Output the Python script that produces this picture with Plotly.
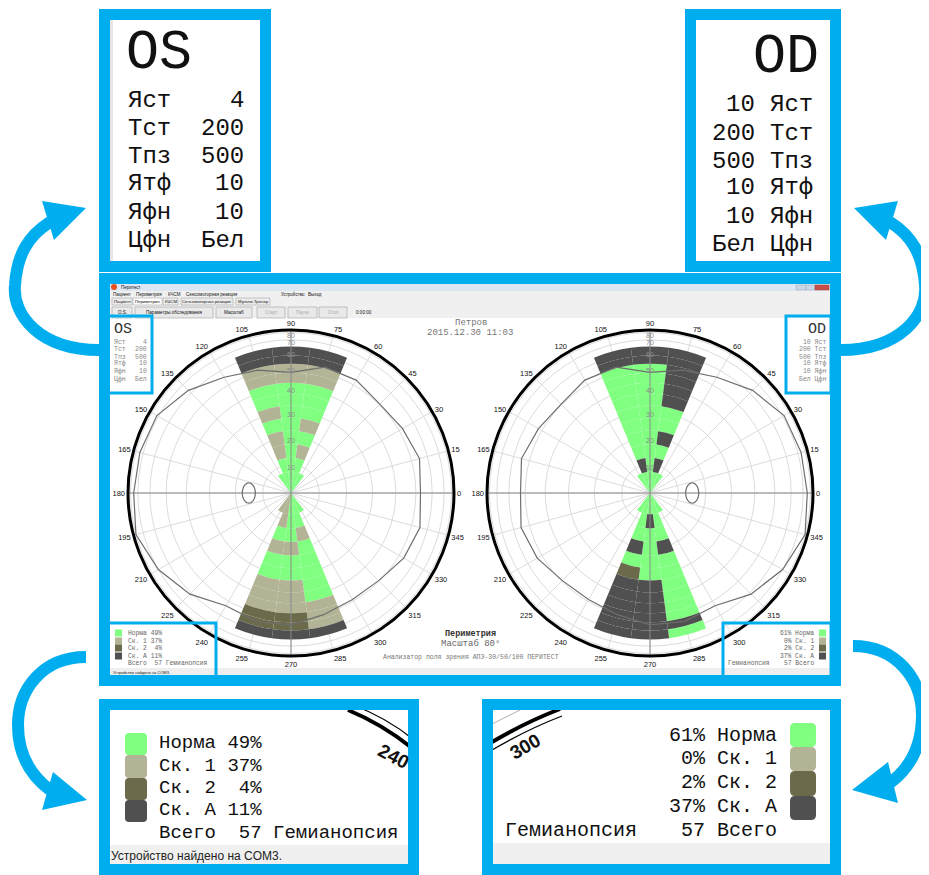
import math
import plotly.graph_objects as go

# the page body adds an 8px margin, so the figure is drawn 8px smaller and offset
W, H = 929, 875
OFF = 8
FW, FH = W - OFF, H - OFF
BLUE = "#00AEEF"
MONO = "Courier New, Liberation Mono, monospace"
SANS = "Arial, Liberation Sans, sans-serif"
NB = "\u00a0"

# ---------------- data ----------------
STATUS_KEYS = ["N", "1", "2", "A"]
STATUS_NAMES = ["Норма", "Ск. 1", "Ск. 2", "Ск. А"]
STATUS_COLORS = ["#80FF80", "#B3B396", "#6B6B4C", "#505050"]

ECC_CENTERS = [10, 15, 20, 25, 30, 35, 40, 45, 50, 55, 60]
ECC_HALF = 2.5
OUTER_EDGE = 64
FAN_EDGE = 7.5
TOP_MERIDIANS = [105, 90, 75]
BOTTOM_MERIDIANS = [255, 270, 285]
FAN_TOP_MERIDIANS = [120, 105, 90, 75, 60]
FAN_BOTTOM_MERIDIANS = [240, 255, 270, 285, 300]
CELL_WIDTH = 15

# rows follow ECC_CENTERS, characters follow the meridian lists
OS_TOP = ["NNN", "1N1", "1NN", "NN1", "1NN", "NNN", "NNN", "111", "111", "AAA", "AAA"]
OS_BOTTOM = ["1NN", "NN1", "11N", "NNN", "NNN", "11N", "11N", "111", "221", "221", "AAA"]
OS_FAN_TOP = "NNNNN"
OS_FAN_BOTTOM = "11NNN"

OD_TOP = ["ANA", "NNN", "NNA", "NNN", "NNN", "NNA", "NNA", "NNA", "NNA", "AAA", "AAA"]
OD_BOTTOM = ["NAN", "NNN", "ANA", "NNN", "2NN", "AAN", "AAN", "AAN", "AAN", "AAA", "AAN"]
OD_FAN_TOP = "NNNNN"
OD_FAN_BOTTOM = "NNNNN"

ISOPTER_THETA = list(range(0, 360, 15))
OS_ISOPTER = [52.6, 54.7, 52.2, 50.4, 53.1, 53.1, 47.7, 51.3, 55.1, 62.9, 71.8, 73.7,
              74.8, 80.0, 70.0, 61.3, 53.0, 54.7, 54.0, 50.6, 49.0, 49.5, 53.0, 55.0]
OD_ISOPTER = [74.8, 73.7, 71.8, 62.9, 55.1, 51.3, 47.7, 53.1, 53.1, 50.4, 52.2, 54.7,
              52.6, 55.0, 53.0, 49.5, 49.0, 50.6, 54.0, 54.7, 53.0, 61.3, 70.0, 80.0]

OS_BLIND = dict(ecc=15, theta=180, half_w=0.040, half_h=0.062)
OD_BLIND = dict(ecc=15, theta=0, half_w=0.040, half_h=0.062)

RADIAL_TICKS = [10, 20, 30, 40, 50, 60, 70, 80]
ANGULAR_TICKS = list(range(0, 360, 15))

OS_PCT = [49, 37, 4, 11]
OD_PCT = [61, 0, 2, 37]
TOTAL = 57
TEST_NAME = "Гемианопсия"
PARAM_NAMES = ["Яст", "Тст", "Тпз", "Ятф", "Яфн", "Цфн"]
OS_PARAMS = ["4", "200", "500", "10", "10", "Бел"]
OD_PARAMS = ["10", "200", "500", "10", "10", "Бел"]

PATIENT = "Петров"
DATE = "2015.12.30 11:03"
TITLE = "Периметрия"
SCALE = "Масштаб 80°"
DEVICE = "Анализатор поля зрения АПЭ-30/50/100 ПЕРИТЕСТ"
STATUS_MSG = "Устройство найдено на COM3."
APP_NAME = "Перитест"
MENU = ["Пациент", "Периметрия", "КЧСМ", "Сенсомоторная реакция", "Устройство", "Выход"]
TABS = ["Пациент", "Периметрия", "КЧСМ", "Сенсомоторная реакция", "Мульти-Тренер"]
TOOLBAR = ["O.S.", "Параметры обследования", "Масштаб", "Старт", "Пауза", "Стоп"]
TIMER = "0:00:00"

# ---------------- helpers ----------------
shapes = []
annotations = []


def s2r(e):
    return math.sin(math.radians(e))


def fx(x):
    return (x - OFF) / FW


def fy(y):
    return 1 - (y - OFF) / FH


def rect(x0, y0, x1, y1, fill=None, line=None, lw=0, layer="below"):
    shapes.append(dict(type="rect", xref="paper", yref="paper",
                       x0=fx(x0), x1=fx(x1), y0=fy(y1), y1=fy(y0),
                       fillcolor=fill or "rgba(0,0,0,0)",
                       line=dict(color=line or "rgba(0,0,0,0)", width=lw), layer=layer))


def pt(x, y):
    return f"{fx(x):.5f},{fy(y):.5f}"


def path(cmds, fill=None, line=None, lw=0, layer="above"):
    d = ""
    for c in cmds:
        d += c[0] + " " + " ".join(pt(*p) for p in c[1:]) + " "
    shapes.append(dict(type="path", path=d.strip(), xref="paper", yref="paper",
                       fillcolor=fill or "rgba(0,0,0,0)",
                       line=dict(color=line or "rgba(0,0,0,0)", width=lw), layer=layer))


def rounded(x0, y0, x1, y1, rad, fill):
    path([("M", (x0 + rad, y0)), ("L", (x1 - rad, y0)), ("Q", (x1, y0), (x1, y0 + rad)),
          ("L", (x1, y1 - rad)), ("Q", (x1, y1), (x1 - rad, y1)),
          ("L", (x0 + rad, y1)), ("Q", (x0, y1), (x0, y1 - rad)),
          ("L", (x0, y0 + rad)), ("Q", (x0, y0), (x0 + rad, y0)), ("Z",)],
         fill=fill, layer="below")


def text(x, y, s, size, xanchor="left", color="#111", family=MONO, angle=0, bold=False):
    s = s.replace(" ", NB)
    if bold:
        s = "<b>" + s + "</b>"
    annotations.append(dict(x=fx(x), y=fy(y), xref="paper", yref="paper", text=s,
                            showarrow=False, xanchor=xanchor, yanchor="middle",
                            textangle=angle, borderpad=0,
                            font=dict(size=size, color=color, family=family)))


fig = go.Figure()


def add_chart(pid, top, bottom, fan_top, fan_bottom, isopter, blind):
    cells = {k: dict(theta=[], r=[], base=[]) for k in STATUS_KEYS}
    for i, e in enumerate(ECC_CENTERS):
        lo = e - ECC_HALF
        hi = e + ECC_HALF if i < len(ECC_CENTERS) - 1 else OUTER_EDGE
        for mer_list, rows in ((TOP_MERIDIANS, top), (BOTTOM_MERIDIANS, bottom)):
            for j, m in enumerate(mer_list):
                k = rows[i][j]
                cells[k]["theta"].append(m)
                cells[k]["base"].append(s2r(lo))
                cells[k]["r"].append(s2r(hi) - s2r(lo))
    for mer_list, row in ((FAN_TOP_MERIDIANS, fan_top), (FAN_BOTTOM_MERIDIANS, fan_bottom)):
        for j, m in enumerate(mer_list):
            k = row[j]
            cells[k]["theta"].append(m)
            cells[k]["base"].append(0)
            cells[k]["r"].append(s2r(FAN_EDGE))
    for k, col in zip(STATUS_KEYS, STATUS_COLORS):
        c = cells[k]
        if not c["theta"]:
            continue
        fig.add_trace(go.Barpolar(theta=c["theta"], r=c["r"], base=c["base"], width=CELL_WIDTH,
                                  marker=dict(color=col, line=dict(width=0)),
                                  subplot=pid, hoverinfo="skip", showlegend=False))
    # main cross lines
    for a, b in ((0, 180), (90, 270)):
        fig.add_trace(go.Scatterpolar(r=[1, 0, 1], theta=[a, a, b], mode="lines",
                                      line=dict(color="#8a8a8a", width=1),
                                      subplot=pid, hoverinfo="skip", showlegend=False))
    # isopter
    rr = [s2r(e) for e in isopter] + [s2r(isopter[0])]
    tt = ISOPTER_THETA + [ISOPTER_THETA[0]]
    fig.add_trace(go.Scatterpolar(r=rr, theta=tt, mode="lines",
                                  line=dict(color="#6e6e6e", width=1.2),
                                  subplot=pid, hoverinfo="skip", showlegend=False))
    # blind spot
    cx = s2r(blind["ecc"]) * math.cos(math.radians(blind["theta"]))
    cy = s2r(blind["ecc"]) * math.sin(math.radians(blind["theta"]))
    br, bt = [], []
    for i in range(41):
        t = 2 * math.pi * i / 40
        x = cx + blind["half_w"] * math.cos(t)
        y = cy + blind["half_h"] * math.sin(t)
        br.append(math.hypot(x, y))
        bt.append(math.degrees(math.atan2(y, x)) % 360)
    fig.add_trace(go.Scatterpolar(r=br, theta=bt, mode="lines",
                                  line=dict(color="#6e6e6e", width=1.2),
                                  subplot=pid, hoverinfo="skip", showlegend=False))
    # radial labels along the vertical meridian
    fig.add_trace(go.Scatterpolar(r=[s2r(e) for e in RADIAL_TICKS], theta=[90] * len(RADIAL_TICKS),
                                  mode="text", text=[str(e) for e in RADIAL_TICKS],
                                  textposition="bottom center",
                                  textfont=dict(size=7, color="#8c8c8c", family=SANS),
                                  subplot=pid, hoverinfo="skip", showlegend=False))


add_chart("polar", OS_TOP, OS_BOTTOM, OS_FAN_TOP, OS_FAN_BOTTOM, OS_ISOPTER, OS_BLIND)
add_chart("polar2", OD_TOP, OD_BOTTOM, OD_FAN_TOP, OD_FAN_BOTTOM, OD_ISOPTER, OD_BLIND)

R = 163


def polar_layout(cx, cy):
    return dict(
        domain=dict(x=[fx(cx - R), fx(cx + R)], y=[fy(cy + R), fy(cy - R)]),
        bgcolor="rgba(0,0,0,0)", bargap=0,
        radialaxis=dict(range=[0, 1], tickmode="array",
                        tickvals=[s2r(e) for e in RADIAL_TICKS],
                        showticklabels=False, angle=90, showline=False, ticks="",
                        gridcolor="#dcdcdc", gridwidth=1),
        angularaxis=dict(rotation=0, direction="counterclockwise", tickmode="array",
                         tickvals=ANGULAR_TICKS, ticktext=[str(a) for a in ANGULAR_TICKS],
                         gridcolor="#dcdcdc", gridwidth=1, linecolor="#000", linewidth=3,
                         ticks="", tickfont=dict(size=7.5, color="#111", family=SANS)),
    )


# ---------------- screenshot chrome ----------------
rect(110, 283, 830, 318, fill="#f0f0f0")
rect(110, 283, 830, 291, fill="#dde7f3")
rect(110, 318, 830, 668, fill="#ffffff")
rect(110, 668, 830, 677, fill="#efefef")
shapes.append(dict(type="circle", xref="paper", yref="paper", x0=fx(111), x1=fx(117),
                   y0=fy(290), y1=fy(284), fillcolor="#e8501e",
                   line=dict(width=0), layer="below"))
text(120, 287, APP_NAME, 4.5, family=SANS)
rect(796, 285, 806, 290, fill="#c9d6e6", line="#9aaabb", lw=0.5)
rect(806, 285, 815, 290, fill="#c9d6e6", line="#9aaabb", lw=0.5)
rect(815, 285, 829, 290, fill="#c8504a", line="#a03a35", lw=0.5)
for name, x in zip(MENU, [112, 135, 167, 185, 280, 307]):
    text(x, 294, name, 4.5, family=SANS)
for i, (name, (x0, x1)) in enumerate(zip(TABS, [(112, 132), (133, 162), (163, 178), (181, 233), (236, 270)])):
    rect(x0, 298, x1, 305, fill="#ffffff" if i == 1 else "#ececec", line="#a8a8a8", lw=0.6)
    text((x0 + x1) / 2, 301.5, name, 4.3, xanchor="center", family=SANS)
for i, (name, (x0, x1)) in enumerate(zip(TOOLBAR, [(112, 132), (135, 213), (216, 252), (257, 285), (288, 317), (319, 347)])):
    rect(x0, 307, x1, 318, fill="#e9e9e9", line="#adadad", lw=0.7)
    text((x0 + x1) / 2, 312.5, name, 4.6, xanchor="center", family=SANS,
         color="#aaaaaa" if i >= 3 else "#111")
text(355, 312.5, TIMER, 4.6, family=SANS)
text(112, 672, STATUS_MSG, 4, family=SANS)

text(471, 323, PATIENT, 9, xanchor="center", color="#777")
text(470, 333, DATE, 9, xanchor="center", color="#777")
text(470, 634, TITLE, 8.5, xanchor="center", color="#333", bold=True)
text(470, 644, SCALE, 9, xanchor="center", color="#666")
text(471, 657, DEVICE, 6.5, xanchor="center", color="#777")

# mini parameter boxes
text(113, 329, "OS", 15, color="#333")
text(827, 329, "OD", 15, xanchor="right", color="#333")
ROW_Y_MINI = [342, 349, 357, 364, 372, 379]
for name, vl, vr, y in zip(PARAM_NAMES, OS_PARAMS, OD_PARAMS, ROW_Y_MINI):
    text(113, y, name, 6.5, color="#888")
    text(148, y, vl, 6.5, xanchor="right", color="#888")
    text(827, y, f"{vr:>3} {name}", 6.5, xanchor="right", color="#888")

# mini legends
LEG_Y_MINI = [633, 641, 648, 656]
for name, col, pl, pr, y in zip(STATUS_NAMES, STATUS_COLORS, OS_PCT, OD_PCT, LEG_Y_MINI):
    rect(115, y - 3.5, 122, y + 3.5, fill=col)
    text(127, y, f"{name} {pl:>2}%", 6.3, color="#666")
    rect(819, y - 3.5, 826, y + 3.5, fill=col)
    text(815, y, f"{pr}% {name}", 6.3, xanchor="right", color="#666")
text(127, 663, f"Всего  {TOTAL} {TEST_NAME}", 6.3, color="#666")
text(815, 663, f"{TOTAL} Всего", 6.3, xanchor="right", color="#666")
text(727, 663, TEST_NAME, 6.3, color="#666")

# ---------------- top boxes ----------------
text(125, 53, "OS", 55)
ROW_Y_L = [101, 128, 156, 184, 212, 240]
for name, v, y in zip(PARAM_NAMES, OS_PARAMS, ROW_Y_L):
    text(127, y, name, 24)
    text(245, y, v, 24, xanchor="right")
text(820, 58, "OD", 55, xanchor="right")
ROW_Y_R = [105, 133, 161, 188, 216, 244]
for name, v, y in zip(PARAM_NAMES, OD_PARAMS, ROW_Y_R):
    text(756, y, v, 24, xanchor="right")
    text(769, y, name, 24)
rect(110, 20, 113, 262, fill="#e6e6e6")

# ---------------- bottom boxes ----------------
rect(110, 845, 409, 868, fill="#f0f0f0")
text(110, 856, STATUS_MSG, 12, family=SANS, color="#222")
SQ_L = [(733, 755), (755, 778), (778, 800), (800, 822)]
ROW_Y_BL = [743, 766, 788, 810, 833]
for (y0, y1), col in zip(SQ_L, STATUS_COLORS):
    rounded(125, y0, 147, y1, 4, col)
for name, p, y in zip(STATUS_NAMES, OS_PCT, ROW_Y_BL):
    text(158, y, f"{name} {p:>2}%", 19)
text(158, ROW_Y_BL[4], f"Всего  {TOTAL} {TEST_NAME}", 19)
# zoomed ring piece with 240
path([("M", (348, 710)), ("Q", (382, 724), (412, 748))], line="#000", lw=4)
path([("M", (350, 704)), ("Q", (386, 717), (414, 740))], line="#000", lw=1.3)
text(394, 756, "240", 19, xanchor="center", family=SANS, angle=28, bold=True)

rect(493, 843, 830, 868, fill="#f0f0f0")
SQ_R = [(723, 747), (747, 771), (771, 796), (796, 820)]
ROW_Y_BR = [735, 758, 782, 806, 830]
for (y0, y1), col in zip(SQ_R, STATUS_COLORS):
    rounded(790, y0, 816, y1, 5, col)
for name, p, y in zip(STATUS_NAMES, OD_PCT, ROW_Y_BR):
    text(778, y, f"{p}% {name}", 20, xanchor="right")
text(778, ROW_Y_BR[4], f"{TOTAL} Всего", 20, xanchor="right")
text(504, ROW_Y_BR[4], TEST_NAME, 20)
path([("M", (492, 742)), ("Q", (526, 722), (560, 709))], line="#000", lw=4)
path([("M", (492, 750)), ("Q", (528, 729), (562, 716))], line="#000", lw=1.3)
path([("M", (492, 724)), ("L", (520, 710))], line="#999", lw=0.8)
text(525, 746, "300", 19, xanchor="center", family=SANS, angle=-30, bold=True)

# ---------------- blue frames ----------------
for x0, y0, x1, y1 in [(104.5, 14.5, 265.5, 266.5), (690.5, 14.5, 835.5, 266.5),
                       (104.5, 278.5, 835.5, 680.5), (104.5, 704.5, 413.5, 869.5),
                       (487.5, 704.5, 835.5, 869.5)]:
    rect(x0, y0, x1, y1, line=BLUE, lw=11, layer="above")
for x0, y0, x1, y1 in [(108, 316, 152, 393), (786, 316, 831, 393),
                       (108, 623, 216, 679), (723, 623, 831, 679)]:
    rect(x0, y0, x1, y1, line=BLUE, lw=3, layer="above")

# ---------------- arrows ----------------
path([("M", (99, 350)), ("C", (40, 350), (12, 315), (15, 285)), ("C", (17, 255), (28, 236), (50, 222))],
     line=BLUE, lw=12)
path([("M", (86, 208)), ("L", (42, 201)), ("L", (54, 240)), ("Z",)], fill=BLUE)
path([("M", (841, 350)), ("C", (900, 350), (928, 315), (925, 285)), ("C", (923, 255), (912, 236), (890, 222))],
     line=BLUE, lw=12)
path([("M", (854, 208)), ("L", (898, 201)), ("L", (886, 240)), ("Z",)], fill=BLUE)
path([("M", (86, 657)), ("C", (42, 657), (18, 690), (18, 725)), ("C", (18, 755), (30, 775), (50, 790))],
     line=BLUE, lw=12)
path([("M", (87, 800)), ("L", (42, 810)), ("L", (53, 772)), ("Z",)], fill=BLUE)
path([("M", (853, 646)), ("C", (897, 646), (922, 680), (922, 715)), ("C", (922, 745), (910, 768), (890, 783))],
     line=BLUE, lw=12)
path([("M", (852, 790)), ("L", (888, 762)), ("L", (898, 803)), ("Z",)], fill=BLUE)

fig.update_layout(
    width=FW, height=FH, margin=dict(l=0, r=0, t=0, b=0),
    paper_bgcolor="#ffffff", plot_bgcolor="#ffffff", showlegend=False,
    polar=polar_layout(291, 493), polar2=polar_layout(650, 493),
    shapes=shapes, annotations=annotations,
)
fig.write_html("out.html")
